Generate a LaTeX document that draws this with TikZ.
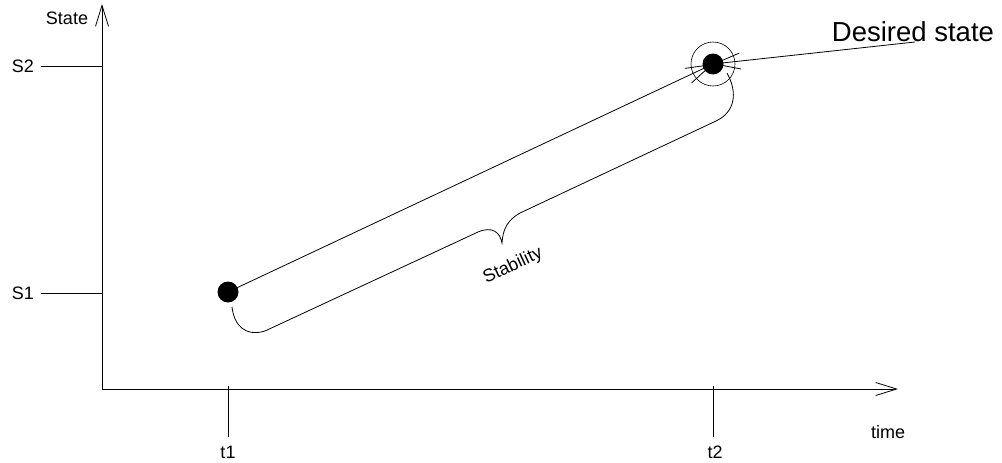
\documentclass[tikz,border=0pt]{standalone}
\usepackage{fontspec}
\setsansfont{Liberation Sans}
\usetikzlibrary{
  arrows.meta
}

\begin{document}
\begin{tikzpicture}[
  x=1pt,
  y=-1pt,
  font=\sffamily,
  >={Straight Barb[length=21pt,width=13pt]},
  axis/.style={->,line width=0.8pt},
  tick/.style={line width=0.8pt},
  lbl/.style={font=\fontsize{18}{20}\selectfont\sffamily,inner sep=0pt},
  biglbl/.style={font=\fontsize{27.5}{30}\selectfont\sffamily,inner sep=0pt},
  dot/.style={circle,fill=black,minimum size=21pt,inner sep=0pt},
  ring/.style={circle,draw,line width=0.6pt,minimum size=44pt,inner sep=0pt},
  link/.style={-{Straight Barb[length=26pt,width=16pt]},line width=0.8pt},
  brace/.style={line width=0.8pt}
]
\useasboundingbox (0,0) rectangle (1002,463);

% axes
\coordinate (origin) at (102,389);
\coordinate (ytop) at (102,4);
\coordinate (xend) at (898,389);
\draw[axis] (origin) -- (ytop);
\draw[axis] (origin) -- (xend);

\node[lbl] (statelbl) at (67,18) {State};
\node[lbl] (timelbl) at (888,432) {time};

% state ticks
\node[lbl] (s2lbl) at (23,66) {S2};
\node[lbl] (s1lbl) at (23,293) {S1};
\coordinate (s2a) at (41,66);
\coordinate (s2b) at (102,66);
\coordinate (s1a) at (41,293);
\coordinate (s1b) at (102,293);
\draw[tick] (s2a) -- (s2b);
\draw[tick] (s1a) -- (s1b);

% time ticks
\node[lbl] (t1lbl) at (228,452) {t1};
\node[lbl] (t2lbl) at (715,452) {t2};
\coordinate (t1a) at (228,386);
\coordinate (t1b) at (228,437);
\coordinate (t2a) at (713,386);
\coordinate (t2b) at (713,437);
\draw[tick] (t1a) -- (t1b);
\draw[tick] (t2a) -- (t2b);

% states
\node[ring] (goalring) at (713,64) {};
\node[biglbl] (goallbl) at (913,32) {Desired state};
\coordinate (goaltail) at (915,42);
\coordinate (start) at (228,292);
\coordinate (goal) at (713,64);
\draw[link] (start) -- (goal);
\draw[link] (goaltail) -- (goal);
\node[dot] (startdot) at (start) {};
\node[dot] (goaldot) at (goal) {};

% stability brace
\coordinate (bracea) at (232,307);
\coordinate (bracetip) at (502,243);
\coordinate (braceb) at (727,73);
\draw[brace] (bracea) .. controls (234,325) and (245,337) .. (265,331)
  -- (478,232) .. controls (492,226) and (500,232) .. (bracetip)
  .. controls (503,228) and (508,220) .. (520,213)
  -- (716,121) .. controls (735,112) and (738,93) .. (braceb);
\node[lbl,rotate=25] (stablbl) at (513,266) {Stability};
\end{tikzpicture}
\end{document}
